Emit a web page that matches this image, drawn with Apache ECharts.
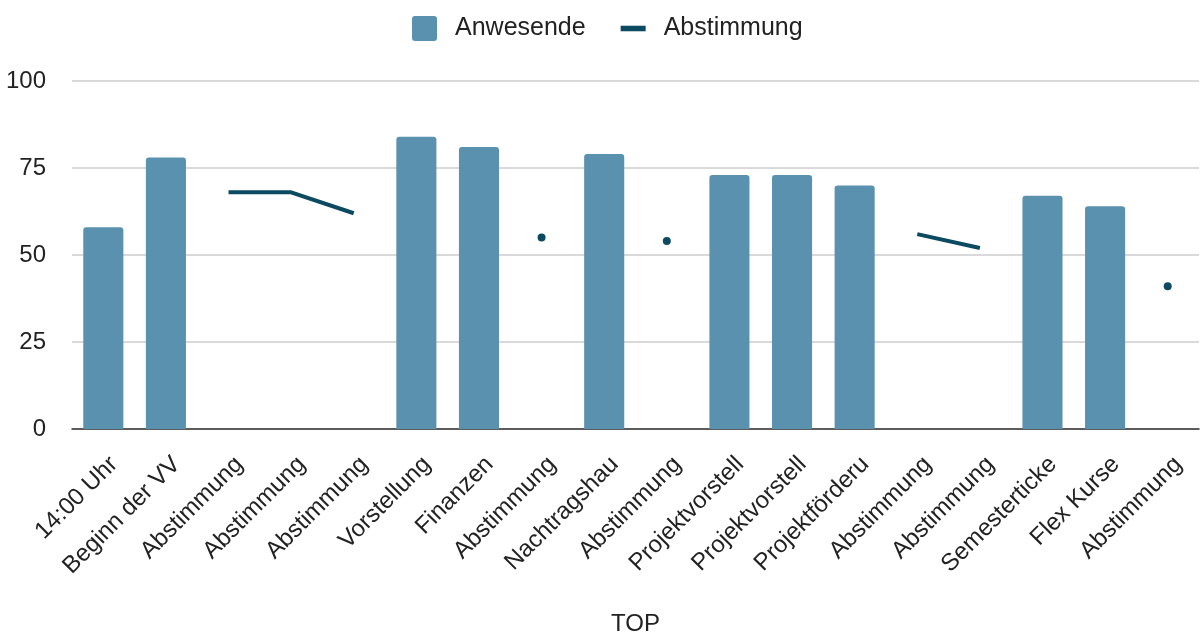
<!DOCTYPE html>
<html><head><meta charset="utf-8">
<script src="https://cdn.jsdelivr.net/npm/echarts@6/dist/echarts.min.js"></script>
<style>html,body{margin:0;padding:0;background:#fff;overflow:hidden}#c{width:1202px;height:641px}</style>
</head><body><div id="c"></div>
<script>
const categories = ['14:00 Uhr','Beginn der VV','Abstimmung','Abstimmung','Abstimmung','Vorstellung','Finanzen','Abstimmung','Nachtragshau','Abstimmung','Projektvorstell','Projektvorstell','Projektförderu','Abstimmung','Abstimmung','Semesterticke','Flex Kurse','Abstimmung'];
const anwesende = [58,78,null,null,null,84,81,null,79,null,73,73,70,null,null,67,64,null];
const abstimmung = [null,null,68,68,62,null,null,55,null,54,null,null,null,56,52,null,null,41];
const yTicks = [0,25,50,75,100];

const lineData = abstimmung.map((v,i)=>{
  const prev = i>0 ? abstimmung[i-1] : null;
  const next = i<abstimmung.length-1 ? abstimmung[i+1] : null;
  const isolated = v!=null && prev==null && next==null;
  return {value:v, symbol: isolated ? 'circle':'none', symbolSize: isolated ? 8 : 0};
});

const FF = 'Liberation Sans, Arial, sans-serif';
const chart = echarts.init(document.getElementById('c'), null, {width:1202, height:641});
chart.setOption({
  animation:false,
  textStyle:{fontFamily:FF},
  legend:{
    top:11, left:407, itemGap:35, itemWidth:25, itemHeight:25,
    textStyle:{fontSize:25,color:'#222',fontFamily:FF,padding:[0,0,0,13]},
    data:[
      {name:'Anwesende', icon:'path://M3,0 L22,0 Q25,0 25,3 L25,22 Q25,25 22,25 L3,25 Q0,25 0,22 L0,3 Q0,0 3,0 Z', itemStyle:{color:'#5a91ae'}},
      {name:'Abstimmung', icon:'path://M0,0 L27,0 L27,6 L0,6 Z', itemStyle:{color:'#0c4a62'}}
    ]
  },
  grid:{left:72,right:3,top:81,bottom:205},
  xAxis:{
    type:'category', data:categories,
    name:'TOP', nameLocation:'middle', nameGap:183,
    nameTextStyle:{fontSize:24,color:'#222',fontFamily:FF},
    axisLine:{lineStyle:{color:'#333',width:1.5}},
    axisTick:{show:false},
    axisLabel:{rotate:45,fontSize:24,lineHeight:24,color:'#222',margin:7,interval:0,fontFamily:FF,
      verticalAlign:'top',padding:[13,10,0,0]}
  },
  yAxis:{
    type:'value', min:0, max:100, interval:25,
    axisLabel:{fontSize:24,color:'#222',margin:26,fontFamily:FF},
    axisLine:{show:false}, axisTick:{show:false},
    splitLine:{lineStyle:{color:'#cccccc',width:1.5}}
  },
  series:[
    {name:'Anwesende', type:'bar', data:anwesende, barWidth:'64%',
     itemStyle:{color:'#5a91ae', borderRadius:[3,3,0,0]}},
    {name:'Abstimmung', type:'line', data:lineData, connectNulls:false,
     lineStyle:{color:'#0c4a62',width:4}, itemStyle:{color:'#0c4a62'}}
  ]
});
</script></body></html>
